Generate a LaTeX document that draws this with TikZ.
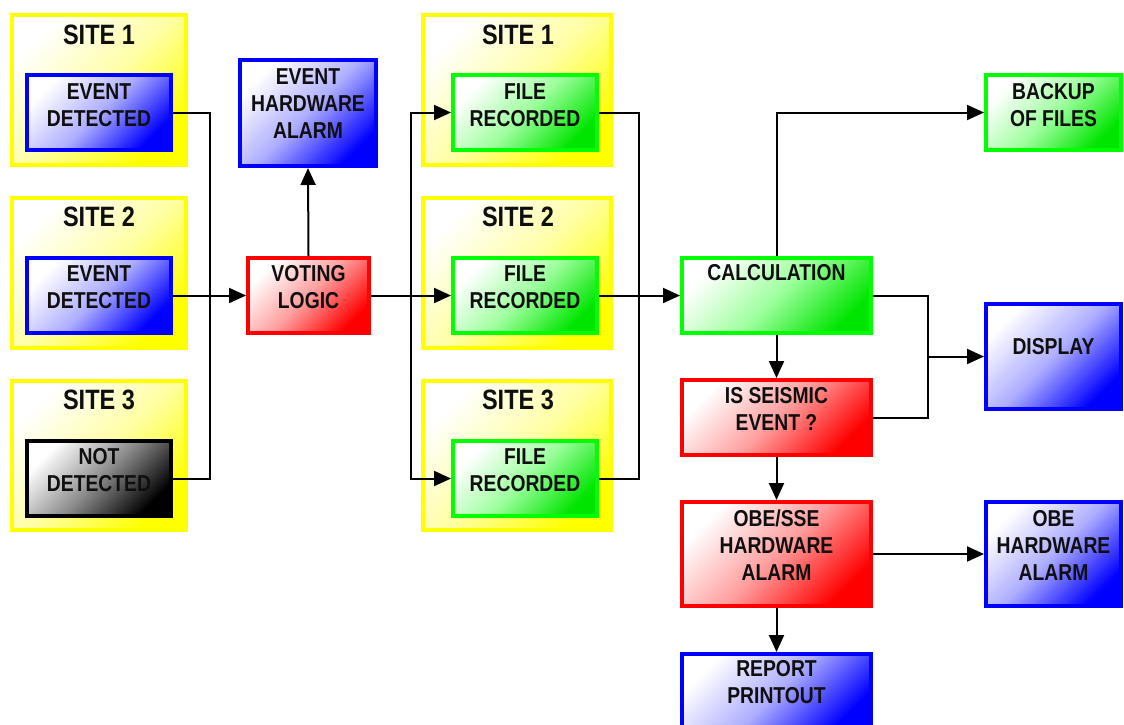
\documentclass[tikz,border=0pt]{standalone}
\usepackage{fontspec}
\setmainfont[FakeStretch=0.84]{Liberation Sans}
\usetikzlibrary{arrows.meta,calc}
\definecolor{yel}{RGB}{255,255,0}
\definecolor{grn}{RGB}{0,255,0}
\definecolor{txtc}{RGB}{15,15,15}
\begin{document}
\begin{tikzpicture}[x=1pt,y=-1pt,
  box/.style={draw, line width=4pt, inner sep=0pt},
  site/.style={box, draw=yel, top color=white, bottom color=yel, middle color=yel!35, shading angle=45},
  bluebox/.style={box, draw=blue, top color=white, bottom color=blue, middle color=blue!32, shading angle=45},
  greenbox/.style={box, draw=grn, top color=white, bottom color=grn!90!black, middle color=grn!38, shading angle=45},
  redbox/.style={box, draw=red, top color=white, bottom color=red, middle color=red!38, shading angle=45},
  blackbox/.style={box, draw=black, top color=white, bottom color=black, middle color=black!45, shading angle=45},
  txt/.style={align=center, inner sep=0pt, text=txtc, font=\fontsize{23}{27}\selectfont\bfseries},
  title/.style={inner sep=0pt, text=txtc, font=\fontsize{28}{32}\selectfont\bfseries},
  line/.style={line width=2pt},
  arr/.style={line width=2pt, -{Triangle[length=17pt,width=15pt]}}]
\clip (0,0) rectangle (1124,724);
\useasboundingbox (0,0) rectangle (1124,724);
% sites left
\node[site, minimum width=174, minimum height=150] (sl1) at (99,90) {};
\node[site, minimum width=174, minimum height=150] (sl2) at (99,273) {};
\node[site, minimum width=174, minimum height=149] (sl3) at (99,455.5) {};
\node[title] (sl1t) at (99,35) {SITE 1};
\node[title] (sl2t) at (99,217) {SITE 2};
\node[title] (sl3t) at (99,400) {SITE 3};
% sites middle
\node[site, minimum width=188, minimum height=150] (sm1) at (517,90) {};
\node[site, minimum width=188, minimum height=150] (sm2) at (517,273) {};
\node[site, minimum width=188, minimum height=149] (sm3) at (517,455.5) {};
\node[title] (sm1t) at (518,35) {SITE 1};
\node[title] (sm2t) at (518,217) {SITE 2};
\node[title] (sm3t) at (518,400) {SITE 3};
% left inner boxes
\node[bluebox, minimum width=144, minimum height=75] (ed1) at (99,112.5) {};
\node[txt] (ed1t) at (99,105.5) {EVENT\\DETECTED};
\node[bluebox, minimum width=144, minimum height=75] (ed2) at (99,295.5) {};
\node[txt] (ed2t) at (99,287.5) {EVENT\\DETECTED};
\node[blackbox, minimum width=144, minimum height=75] (nd3) at (99,478.5) {};
\node[txt] (nd3t) at (99,470) {NOT\\DETECTED};
% event hardware alarm, voting
\node[bluebox, minimum width=136, minimum height=106] (eha) at (308,113) {};
\node[txt] (ehat) at (308,104) {EVENT\\HARDWARE\\ALARM};
\node[redbox, minimum width=121, minimum height=75] (vl) at (308.5,295.5) {};
\node[txt] (vlt) at (308.5,287) {VOTING\\LOGIC};
% files
\node[greenbox, minimum width=144, minimum height=75] (fr1) at (525,112.5) {};
\node[txt] (fr1t) at (525,105.5) {FILE\\RECORDED};
\node[greenbox, minimum width=144, minimum height=75] (fr2) at (525,295.5) {};
\node[txt] (fr2t) at (525,287.5) {FILE\\RECORDED};
\node[greenbox, minimum width=144, minimum height=75] (fr3) at (525,478.5) {};
\node[txt] (fr3t) at (525,470) {FILE\\RECORDED};
% right column
\node[greenbox, minimum width=189, minimum height=75] (calc) at (776.5,295.5) {};
\node[txt] (calct) at (776.5,273) {CALCULATION};
\node[redbox, minimum width=189, minimum height=75] (seis) at (776.5,417.5) {};
\node[txt] (seist) at (776.5,409) {IS SEISMIC\\EVENT ?};
\node[redbox, minimum width=189, minimum height=104] (obs) at (776.5,554) {};
\node[txt] (obst) at (776.5,545) {OBE/SSE\\HARDWARE\\ALARM};
\node[bluebox, minimum width=189, minimum height=76] (rep) at (776.5,692) {};
\node[txt] (rept) at (776.5,682.5) {REPORT\\PRINTOUT};
\node[greenbox, minimum width=135, minimum height=75] (bak) at (1053.5,112.5) {};
\node[txt] (bakt) at (1053.5,105) {BACKUP\\OF FILES};
\node[bluebox, minimum width=135, minimum height=105] (disp) at (1053.5,356.5) {};
\node[txt] (dispt) at (1053.5,347) {DISPLAY};
\node[bluebox, minimum width=135, minimum height=104] (obe) at (1053.5,554) {};
\node[txt] (obet) at (1053.5,545) {OBE\\HARDWARE\\ALARM};
% connectors
\coordinate (j1) at (210,295.5);
\draw[line] (ed1.east) -| (j1) |- (nd3.east);
\draw[arr] (ed2.east) -- (vl.west);
\draw[arr] (vl.north) -- (eha.south);
\coordinate (j2) at (411,295.5);
\draw[arr] (vl.east) -- (fr2.west);
\draw[arr] (j2) |- (fr1.west);
\draw[arr] (j2) |- (fr3.west);
\coordinate (j3) at (639,295.5);
\draw[line] (fr1.east) -| (j3) |- (fr3.east);
\draw[arr] (fr2.east) -- (calc.west);
\draw[arr] (calc.north) |- (bak.west);
\coordinate (j4) at (928,356.5);
\draw[line] (calc.east) -| (j4) |- (seis.east);
\draw[arr] (j4) -- (disp.west);
\draw[arr] (calc.south) -- (seis.north);
\draw[arr] (seis.south) -- (obs.north);
\draw[arr] (obs.east) -- (obe.west);
\draw[arr] (obs.south) -- (rep.north);
\end{tikzpicture}
\end{document}
